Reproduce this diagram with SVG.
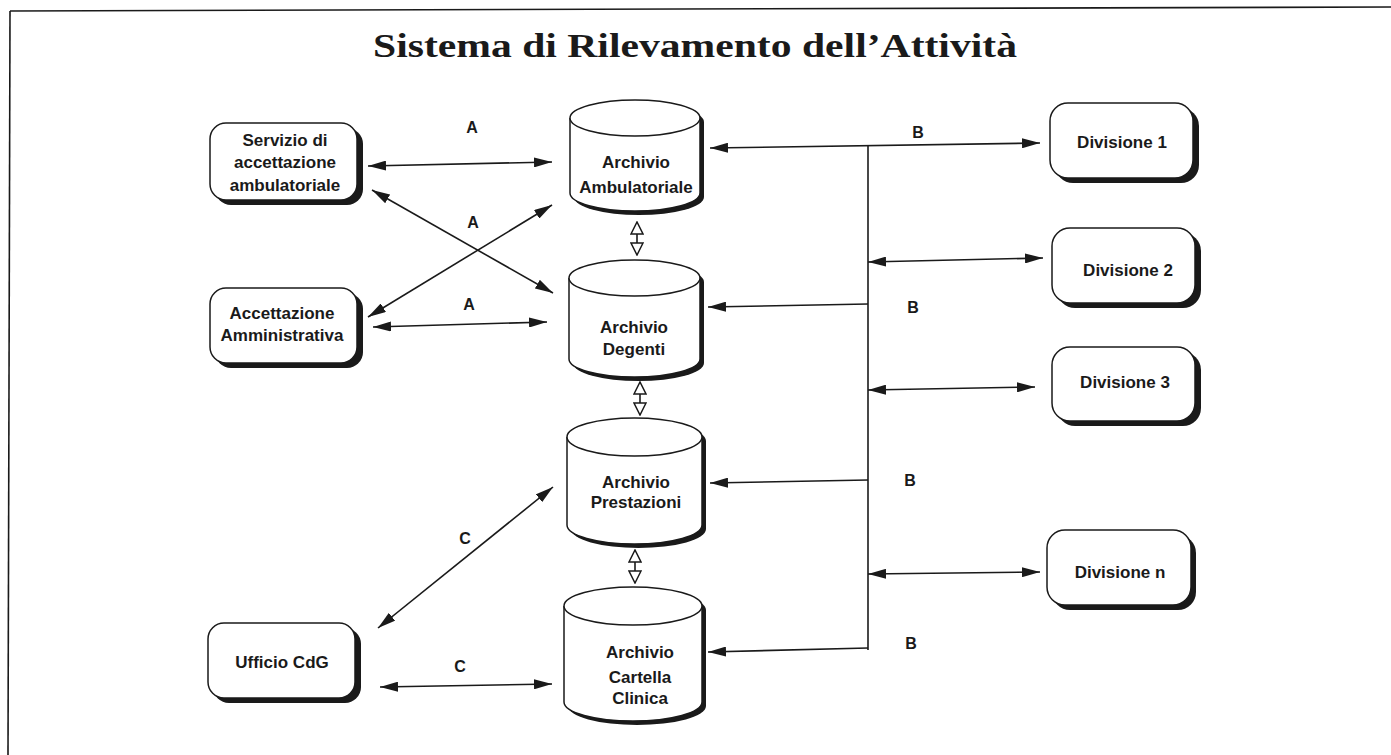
<svg xmlns="http://www.w3.org/2000/svg" width="1391" height="755" viewBox="0 0 1391 755">
<style>
.box{fill:#fff;stroke:#1a1a1a;stroke-width:1.5}
.shadow{fill:#1a1a1a;stroke:none}
.cyl{fill:#fff;stroke:#1a1a1a;stroke-width:1.5}
.lbl{font-family:"Liberation Sans",Arial,sans-serif;font-weight:bold;font-size:17px;fill:#1a1a1a;text-anchor:middle}
.tag{font-family:"Liberation Sans",Arial,sans-serif;font-weight:bold;font-size:16px;fill:#1a1a1a;text-anchor:middle}
.title{font-family:"Liberation Serif","Times New Roman",serif;font-weight:bold;font-size:34px;fill:#1a1a1a;text-anchor:middle}
.ln{fill:none;stroke:#1a1a1a;stroke-width:1.6}
.ends{marker-start:url(#ah);marker-end:url(#ah)}
.end{marker-end:url(#ah)}
.hollow{marker-start:url(#hh);marker-end:url(#hh)}
</style>
<defs>
<marker id="ah" viewBox="0 0 18 10" refX="18" refY="5" markerWidth="18" markerHeight="10" markerUnits="userSpaceOnUse" orient="auto-start-reverse">
<path d="M0,0 L18,5 L0,10 z" fill="#1a1a1a"/>
</marker>
<marker id="hh" viewBox="-1 -1 14 14" refX="12" refY="6" markerWidth="14" markerHeight="14" markerUnits="userSpaceOnUse" orient="auto-start-reverse">
<path d="M0,0 L12,6 L0,12 z" fill="#fff" stroke="#1a1a1a" stroke-width="1.5"/>
</marker>
</defs>
<rect width="1391" height="755" fill="#fff"/>
<g id="frame">
<path class="ln" d="M10,11 L1391,7" stroke-width="2"/>
<path class="ln" d="M10,11 L8,755" stroke-width="2"/>
</g>
<text class="title" x="695" y="57" textLength="644" lengthAdjust="spacingAndGlyphs">Sistema di Rilevamento dell’Attività</text>

<g id="servizio">
<rect class="shadow" x="215" y="128" width="148" height="77" rx="16"/>
<rect class="box" x="210" y="123" width="147" height="77" rx="16"/>
<text class="lbl" x="285" y="146">Servizio di</text>
<text class="lbl" x="285" y="168">accettazione</text>
<text class="lbl" x="285" y="191">ambulatoriale</text>
</g>
<g id="accettazione">
<rect class="shadow" x="215" y="293" width="148" height="75" rx="16"/>
<rect class="box" x="210" y="288" width="147" height="75" rx="16"/>
<text class="lbl" x="282" y="319">Accettazione</text>
<text class="lbl" x="282" y="341">Amministrativa</text>
</g>
<g id="ufficio">
<rect class="shadow" x="213" y="628" width="148" height="75" rx="16"/>
<rect class="box" x="208" y="623" width="147" height="75" rx="16"/>
<text class="lbl" x="282" y="668">Ufficio CdG</text>
</g>

<g id="div1">
<rect class="shadow" x="1055" y="108" width="144" height="75" rx="18"/>
<rect class="box" x="1050" y="103" width="143" height="75" rx="18"/>
<text class="lbl" x="1122" y="148">Divisione 1</text>
</g>
<g id="div2">
<rect class="shadow" x="1057" y="233" width="144" height="75" rx="18"/>
<rect class="box" x="1052" y="228" width="143" height="75" rx="18"/>
<text class="lbl" x="1128" y="276">Divisione 2</text>
</g>
<g id="div3">
<rect class="shadow" x="1057" y="352" width="144" height="74" rx="18"/>
<rect class="box" x="1052" y="347" width="143" height="74" rx="18"/>
<text class="lbl" x="1125" y="388">Divisione 3</text>
</g>
<g id="divn">
<rect class="shadow" x="1052" y="535" width="144" height="75" rx="18"/>
<rect class="box" x="1047" y="530" width="144" height="75" rx="18"/>
<text class="lbl" x="1120" y="578">Divisione n</text>
</g>

<g id="arch1">
<path class="shadow" d="M574,122 A65,18 0 0 1 704,122 L704,197 A65,18 0 0 1 574,197 Z"/>
<path class="cyl" d="M570,118 A65,18 0 0 1 700,118 L700,193 A65,18 0 0 1 570,193 Z"/>
<path class="cyl" fill="none" d="M570,118 A65,18 0 0 0 700,118"/>
<text class="lbl" x="636" y="168">Archivio</text>
<text class="lbl" x="636" y="193">Ambulatoriale</text>
</g>
<g id="arch2">
<path class="shadow" d="M573,282 A65.5,18 0 0 1 704,282 L704,363 A65.5,18 0 0 1 573,363 Z"/>
<path class="cyl" d="M569,278 A65.5,18 0 0 1 700,278 L700,359 A65.5,18 0 0 1 569,359 Z"/>
<path class="cyl" fill="none" d="M569,278 A65.5,18 0 0 0 700,278"/>
<text class="lbl" x="634" y="333">Archivio</text>
<text class="lbl" x="634" y="355">Degenti</text>
</g>
<g id="arch3">
<path class="shadow" d="M571,441 A67.5,19 0 0 1 706,441 L706,529 A67.5,19 0 0 1 571,529 Z"/>
<path class="cyl" d="M567,437 A67.5,19 0 0 1 702,437 L702,525 A67.5,19 0 0 1 567,525 Z"/>
<path class="cyl" fill="none" d="M567,437 A67.5,19 0 0 0 702,437"/>
<text class="lbl" x="636" y="488">Archivio</text>
<text class="lbl" x="636" y="508">Prestazioni</text>
</g>
<g id="arch4">
<path class="shadow" d="M568,610 A69,19 0 0 1 706,610 L706,706 A69,19 0 0 1 568,706 Z"/>
<path class="cyl" d="M564,606 A69,19 0 0 1 702,606 L702,702 A69,19 0 0 1 564,702 Z"/>
<path class="cyl" fill="none" d="M564,606 A69,19 0 0 0 702,606"/>
<text class="lbl" x="640" y="658">Archivio</text>
<text class="lbl" x="640" y="683">Cartella</text>
<text class="lbl" x="640" y="704">Clinica</text>
</g>

<g id="connectors">
<path class="ln ends" d="M368,166 L552,162"/>
<path class="ln ends" d="M372,190 L553,293"/>
<path class="ln ends" d="M368,317 L552,205"/>
<path class="ln ends" d="M373,327 L547,322"/>
<path class="ln ends" d="M378,628 L553,487"/>
<path class="ln ends" d="M380,687 L552,684"/>
<path class="ln hollow" d="M637,222 L637,255"/>
<path class="ln hollow" d="M640,382 L640,415"/>
<path class="ln hollow" d="M635,550 L635,583"/>
<path class="ln" d="M868,146 L868,650"/>
<path class="ln ends" d="M710,148 L1040,143"/>
<path class="ln ends" d="M868,262 L1043,258"/>
<path class="ln end" d="M868,304 L708,307"/>
<path class="ln ends" d="M868,390 L1035,387"/>
<path class="ln end" d="M868,480 L710,483"/>
<path class="ln ends" d="M868,574 L1040,572"/>
<path class="ln end" d="M868,648 L708,652"/>
</g>
<g id="labels">
<text class="tag" x="472" y="133">A</text>
<text class="tag" x="473" y="228">A</text>
<text class="tag" x="469" y="310">A</text>
<text class="tag" x="465" y="544">C</text>
<text class="tag" x="460" y="672">C</text>
<text class="tag" x="918" y="138">B</text>
<text class="tag" x="913" y="313">B</text>
<text class="tag" x="910" y="486">B</text>
<text class="tag" x="911" y="649">B</text>
</g>
</svg>
